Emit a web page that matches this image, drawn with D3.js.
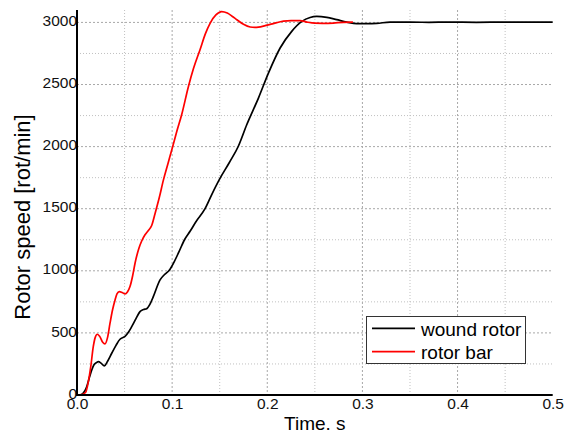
<!DOCTYPE html>
<html>
<head>
<meta charset="utf-8">
<script src="https://cdn.jsdelivr.net/npm/d3@7"></script>
<style>
html,body{margin:0;padding:0;background:#fff;}
svg{display:block;font-family:"Liberation Sans",Arial,sans-serif;}
</style>
</head>
<body>
<svg id="chart" width="570" height="435"></svg>
<script>
// ---- data ----
const xTicks = [0.0, 0.1, 0.2, 0.3, 0.4, 0.5];
const xTickLabels = ["0.0", "0.1", "0.2", "0.3", "0.4", "0.5"];
const xMinorGrid = [0.05, 0.15, 0.25, 0.35, 0.45];
const yTicks = [0, 500, 1000, 1500, 2000, 2500, 3000];
const yMinorGrid = [250, 750, 1250, 1750, 2250, 2750];
const seriesNames = ["wound rotor", "rotor bar"];

const woundTime = [0,0.004,0.008,0.0102,0.013,0.0155,0.018,0.0207,0.0224,0.0255,0.0287,0.032,0.0365,0.041,0.0452,0.048,0.0505,0.054,0.0575,0.062,0.0662,0.070,0.0733,0.077,0.0802,0.0873,0.092,0.097,0.1013,0.107,0.113,0.119,0.125,0.1346,0.142,0.150,0.160,0.1697,0.1784,0.1907,0.2012,0.2135,0.2257,0.2363,0.245,0.252,0.2626,0.273,0.2836,0.294,0.3046,0.315,0.329,0.35,0.37,0.39,0.42,0.45,0.48,0.5];
const woundSpeed = [0,2,30,67,140,201,245,262,268,255,234,270,336,400,449,462,472,505,550,615,671,688,695,735,792,927,970,1005,1060,1150,1250,1320,1395,1500,1620,1740,1870,2005,2176,2391,2592,2794,2928,3008,3040,3048,3040,3022,3003,2990,2990,2992,3003,3002,3001,3003,3001,3003,3002,3003];

const barTime = [0,0.005,0.009,0.012,0.0145,0.0171,0.019,0.0214,0.024,0.027,0.0294,0.032,0.0347,0.0375,0.040,0.042,0.0445,0.0475,0.0505,0.053,0.0557,0.0585,0.061,0.065,0.068,0.0715,0.075,0.0785,0.082,0.0865,0.0908,0.0955,0.1006,0.105,0.110,0.117,0.1225,0.1293,0.135,0.140,0.146,0.152,0.158,0.163,0.168,0.175,0.182,0.187,0.1907,0.197,0.203,0.210,0.217,0.225,0.2345,0.2415,0.250,0.258,0.2695,0.280,0.290];
const barSpeed = [0,3,20,110,230,389,460,489,470,425,411,460,578,690,765,815,833,825,814,830,873,960,1061,1180,1240,1290,1325,1365,1460,1590,1730,1860,2001,2125,2256,2480,2630,2780,2910,2995,3060,3087,3075,3050,3022,2985,2963,2960,2962,2972,2984,2998,3010,3014,3014,3003,2994,2993,2995,3001,3002];

// ---- layout ----
const svg = d3.select("#chart");
const x = d3.scaleLinear().domain([0, 0.5]).range([77, 552.7]);
const y = d3.scaleLinear().domain([0, 3100]).range([395, 10]);
const xl = 77, xr = 552.7, yb = 395, yt = 10;

// grid
const g = svg.append("g");
g.selectAll(".hmin").data(yMinorGrid).join("line")
  .attr("x1", xl).attr("x2", xr).attr("y1", d => y(d)).attr("y2", d => y(d))
  .attr("stroke", "#c0c0c0").attr("stroke-width", 1).attr("stroke-dasharray", "1,2");
g.selectAll(".hmaj").data(yTicks.filter(d => d > 0)).join("line")
  .attr("x1", xl).attr("x2", xr).attr("y1", d => y(d)).attr("y2", d => y(d))
  .attr("stroke", "#a8a8a8").attr("stroke-width", 1).attr("stroke-dasharray", "2,2");
g.selectAll(".vmin").data(xMinorGrid).join("line")
  .attr("x1", d => x(d)).attr("x2", d => x(d)).attr("y1", yt).attr("y2", yb)
  .attr("stroke", "#c0c0c0").attr("stroke-width", 1).attr("stroke-dasharray", "1,2");
g.selectAll(".vmaj").data(xTicks.filter(d => d > 0 && d < 0.5)).join("line")
  .attr("x1", d => x(d)).attr("x2", d => x(d)).attr("y1", yt).attr("y2", yb)
  .attr("stroke", "#a8a8a8").attr("stroke-width", 1).attr("stroke-dasharray", "2,2");

// curves
const line = d3.line().curve(d3.curveMonotoneX);
const woundPts = woundTime.map((t, i) => [x(t), y(woundSpeed[i])]);
const barPts = barTime.map((t, i) => [x(t), y(barSpeed[i])]);
svg.append("path").attr("d", line(woundPts)).attr("fill", "none")
  .attr("stroke", "#000").attr("stroke-width", 1.7).attr("stroke-linejoin", "round");
svg.append("path").attr("d", line(barPts)).attr("fill", "none")
  .attr("stroke", "#ff0000").attr("stroke-width", 1.7).attr("stroke-linejoin", "round");

// axes
const yAxis = d3.axisLeft(y).tickValues(yTicks).tickSize(0).tickPadding(1).tickFormat(d3.format("d"));
const ya = svg.append("g").attr("transform", `translate(${xl},0)`).call(yAxis);
ya.select(".domain").remove();
ya.selectAll("text").attr("font-size", "15.5px").attr("fill", "#111")
  .attr("font-family", "Liberation Sans, Arial, sans-serif").attr("dy", "0.2em").attr("x", 0);

const xAxis = d3.axisBottom(x).tickValues(xTicks).tickSize(0).tickPadding(0)
  .tickFormat((d, i) => xTickLabels[i]);
const xa = svg.append("g").attr("transform", `translate(0,${yb})`).call(xAxis);
xa.select(".domain").remove();
xa.selectAll("text").attr("font-size", "15.5px").attr("fill", "#111")
  .attr("font-family", "Liberation Sans, Arial, sans-serif").attr("dy", "0").attr("y", 13.5);

svg.append("line").attr("x1", xl).attr("x2", xl).attr("y1", yt).attr("y2", yb + 1)
  .attr("stroke", "#000").attr("stroke-width", 2);
svg.append("line").attr("x1", xl - 1).attr("x2", xr).attr("y1", yb).attr("y2", yb)
  .attr("stroke", "#000").attr("stroke-width", 2);

// axis titles
svg.append("text").attr("x", (xl + xr) / 2).attr("y", 430).attr("text-anchor", "middle")
  .attr("font-size", "19px").attr("fill", "#000").text("Time. s");
svg.append("text").attr("transform", "translate(30,217) rotate(-90)").attr("text-anchor", "middle")
  .attr("font-size", "22px").attr("fill", "#000").text("Rotor speed [rot/min]");

// legend
const lg = svg.append("g");
lg.append("rect").attr("x", 366.5).attr("y", 316.5).attr("width", 159).attr("height", 47)
  .attr("fill", "#fff").attr("stroke", "#333").attr("stroke-width", 1);
const legColors = ["#000", "#ff0000"];
seriesNames.forEach((name, i) => {
  const yy = 328.3 + i * 23.4;
  lg.append("line").attr("x1", 372).attr("x2", 415).attr("y1", yy).attr("y2", yy)
    .attr("stroke", legColors[i]).attr("stroke-width", 1.7);
  lg.append("text").attr("x", 421).attr("y", yy + 7.5).attr("font-size", "19px")
    .attr("fill", "#000").text(name);
});
</script>
</body>
</html>
